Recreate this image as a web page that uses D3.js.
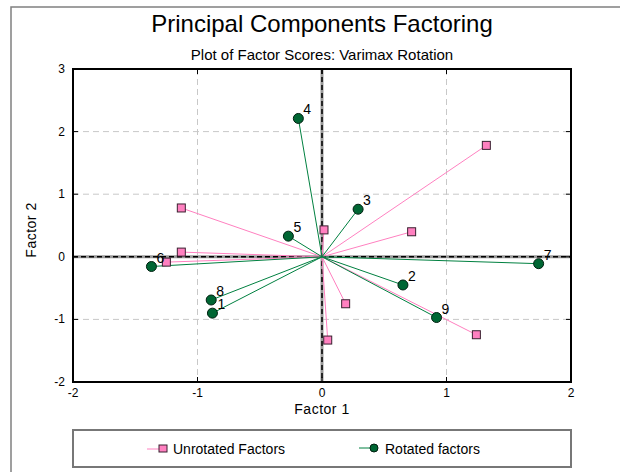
<!DOCTYPE html>
<html>
<head>
<meta charset="utf-8">
<script src="https://cdn.jsdelivr.net/npm/d3@7"></script>
<style>
body { margin: 0; background: #fff; }
text { font-family: "Liberation Sans", Arial, sans-serif; }
</style>
</head>
<body>
<svg id="chart" width="620" height="472"></svg>
<script>
// factor scores, variables 1..9
var varLabels = ["1", "2", "3", "4", "5", "6", "7", "8", "9"]
var unrotX = [-1.25, 0.19, 0.72, 1.32, 0.016, -1.13, 1.24, -1.13, 0.046]
var unrotY = [-0.085, -0.75, 0.40, 1.78, 0.43, 0.78, -1.245, 0.075, -1.33]
var rotX = [-0.88, 0.65, 0.29, -0.19, -0.27, -1.37, 1.74, -0.89, 0.92]
var rotY = [-0.90, -0.45, 0.76, 2.21, 0.33, -0.155, -0.11, -0.69, -0.97]

var xTicks = [-2, -1, 0, 1, 2]
var yTicks = [-2, -1, 0, 1, 2, 3]
var legendNames = ["Unrotated Factors", "Rotated factors"]

var pinkLine = "#ff80c0"
var pinkFill = "#ff80c0"
var greenLine = "#008040"
var greenFill = "#006633"

var svg = d3.select("#chart")

var xleft = 73, xright = 571, ytop = 69, ybottom = 382

var x = d3.scaleLinear().domain([-2, 2]).range([xleft, xright])
var y = d3.scaleLinear().domain([-2, 3]).range([ybottom, ytop])

// outer frame (only left and top visible)
svg.append("path")
    .attr("d", "M11,472 L11,7 L620,7")
    .attr("fill", "none")
    .attr("stroke", "#808080")
    .attr("stroke-width", 1.5)

svg.append("text")
    .attr("x", 322).attr("y", 32)
    .attr("text-anchor", "middle")
    .attr("font-size", "24px")
    .text("Principal Components Factoring")

svg.append("text")
    .attr("x", 322).attr("y", 60)
    .attr("text-anchor", "middle")
    .attr("font-size", "15px")
    .text("Plot of Factor Scores: Varimax Rotation")

// grid
var grid = svg.append("g").attr("id", "grid")
grid.selectAll("line.gx")
    .data(xTicks.filter(function(d){return d != 0 && d != -2 && d != 2}))
    .enter().append("line")
    .attr("x1", function(d){return x(d)}).attr("x2", function(d){return x(d)})
    .attr("y1", ytop).attr("y2", ybottom)
    .attr("stroke", "#c8c8c8").attr("stroke-dasharray", "6,4")
grid.selectAll("line.gy")
    .data(yTicks.filter(function(d){return d != 0 && d != -2 && d != 3}))
    .enter().append("line")
    .attr("x1", xleft).attr("x2", xright)
    .attr("y1", function(d){return y(d)}).attr("y2", function(d){return y(d)})
    .attr("stroke", "#c8c8c8").attr("stroke-dasharray", "6,4")

// zero lines: gray under, black dashes over
var zero = svg.append("g").attr("id", "zero")
;[["#999", 3, null], ["#000", 1.5, "5,3"]].map(function(s){
    zero.append("line")
	.attr("x1", x(0)).attr("x2", x(0)).attr("y1", ytop).attr("y2", ybottom)
	.attr("stroke", s[0]).attr("stroke-width", s[1]).attr("stroke-dasharray", s[2])
    zero.append("line")
	.attr("x1", xleft).attr("x2", xright).attr("y1", y(0)).attr("y2", y(0))
	.attr("stroke", s[0]).attr("stroke-width", s[1]).attr("stroke-dasharray", s[2])
})

var idx = d3.range(varLabels.length)

// vectors from origin
svg.append("g").selectAll("line")
    .data(idx).enter().append("line")
    .attr("x1", x(0)).attr("y1", y(0))
    .attr("x2", function(i){return x(unrotX[i])})
    .attr("y2", function(i){return y(unrotY[i])})
    .attr("stroke", pinkLine).attr("stroke-width", 1)
svg.append("g").selectAll("line")
    .data(idx).enter().append("line")
    .attr("x1", x(0)).attr("y1", y(0))
    .attr("x2", function(i){return x(rotX[i])})
    .attr("y2", function(i){return y(rotY[i])})
    .attr("stroke", greenLine).attr("stroke-width", 1)

svg.append("g").selectAll("rect")
    .data(idx).enter().append("rect")
    .attr("x", function(i){return x(unrotX[i]) - 4})
    .attr("y", function(i){return y(unrotY[i]) - 4})
    .attr("width", 8).attr("height", 8)
    .attr("fill", pinkFill).attr("stroke", "#3a2030").attr("stroke-width", 1)

svg.append("g").selectAll("circle")
    .data(idx).enter().append("circle")
    .attr("cx", function(i){return x(rotX[i])})
    .attr("cy", function(i){return y(rotY[i])})
    .attr("r", 5)
    .attr("fill", greenFill).attr("stroke", "#002010").attr("stroke-width", 1)

svg.append("g").selectAll("text")
    .data(idx).enter().append("text")
    .attr("x", function(i){return x(rotX[i]) + 5})
    .attr("y", function(i){return y(rotY[i]) - 4})
    .attr("font-size", "14px")
    .text(function(i){return varLabels[i]})

// ticks inside on all sides
var ticks = svg.append("g").attr("id", "ticks")
xTicks.map(function(d){
    ticks.append("line").attr("x1", x(d)).attr("x2", x(d)).attr("y1", ytop).attr("y2", ytop + 5).attr("stroke", "#000")
    ticks.append("line").attr("x1", x(d)).attr("x2", x(d)).attr("y1", ybottom).attr("y2", ybottom - 5).attr("stroke", "#000")
})
yTicks.map(function(d){
    ticks.append("line").attr("x1", xleft).attr("x2", xleft + 5).attr("y1", y(d)).attr("y2", y(d)).attr("stroke", "#000")
    ticks.append("line").attr("x1", xright).attr("x2", xright - 5).attr("y1", y(d)).attr("y2", y(d)).attr("stroke", "#000")
})

svg.append("rect")
    .attr("x", xleft).attr("y", ytop)
    .attr("width", xright - xleft).attr("height", ybottom - ytop)
    .attr("fill", "none").attr("stroke", "#000").attr("stroke-width", 2)

svg.append("g").selectAll("text")
    .data(xTicks).enter().append("text")
    .attr("x", function(d){return x(d)}).attr("y", ybottom + 15)
    .attr("text-anchor", "middle").attr("font-size", "12px")
    .text(function(d){return d})
svg.append("g").selectAll("text")
    .data(yTicks).enter().append("text")
    .attr("x", xleft - 8).attr("y", function(d){return y(d) + 4})
    .attr("text-anchor", "end").attr("font-size", "12px")
    .text(function(d){return d})

svg.append("text")
    .attr("x", x(0)).attr("y", 414)
    .attr("text-anchor", "middle").attr("font-size", "14px")
    .attr("letter-spacing", "0.5px")
    .text("Factor 1")
svg.append("text")
    .attr("transform", "translate(36,230) rotate(-90)")
    .attr("text-anchor", "middle").attr("font-size", "14px")
    .attr("letter-spacing", "0.5px")
    .text("Factor 2")

// legend
var legend = svg.append("g").attr("id", "legend")
legend.append("rect")
    .attr("x", 73).attr("y", 430).attr("width", 498).attr("height", 37)
    .attr("fill", "#fff").attr("stroke", "#777").attr("stroke-width", 2)
legend.append("line").attr("x1", 147).attr("x2", 162).attr("y1", 449).attr("y2", 449).attr("stroke", pinkLine)
legend.append("rect").attr("x", 159).attr("y", 445).attr("width", 8).attr("height", 7)
    .attr("fill", pinkFill).attr("stroke", "#3a2030")
legend.append("text").attr("x", 173).attr("y", 454).attr("font-size", "14px").text(legendNames[0])
legend.append("line").attr("x1", 359).attr("x2", 374).attr("y1", 448).attr("y2", 448).attr("stroke", greenLine)
legend.append("circle").attr("cx", 374).attr("cy", 448).attr("r", 4)
    .attr("fill", greenFill).attr("stroke", "#002010")
legend.append("text").attr("x", 385).attr("y", 454).attr("font-size", "14px").text(legendNames[1])
</script>
</body>
</html>
